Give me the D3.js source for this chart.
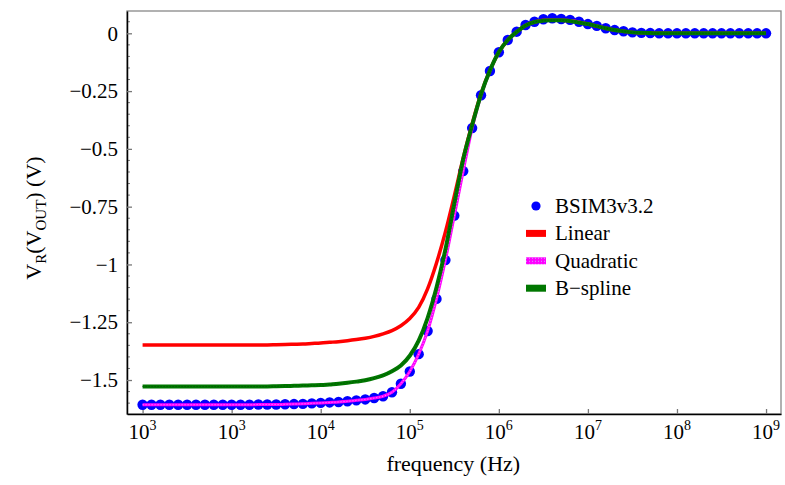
<!DOCTYPE html>
<html>
<head>
<meta charset="utf-8">
<script src="https://cdn.jsdelivr.net/npm/d3@7"></script>
<style>
  body { margin: 0; background: #fff; }
  svg text { font-family: "Liberation Serif", "Times New Roman", Times, "DejaVu Serif", serif !important; fill: #000; }
</style>
</head>
<body>
<div id="chart"></div>
<script>
// frequency sweep: 10 points per decade, 10^2 .. 10^9
const freqs = d3.range(71).map(k => Math.pow(10, 2 + k / 10));

const bsim = [
  -1.607, -1.607, -1.607, -1.607, -1.607, -1.607, -1.607, -1.607, -1.607, -1.607,
  -1.607, -1.607, -1.607, -1.606, -1.606, -1.606, -1.605, -1.604, -1.603, -1.601,
  -1.599, -1.597, -1.595, -1.592, -1.588, -1.584, -1.578, -1.570, -1.553, -1.516,
  -1.463, -1.388, -1.288, -1.149, -0.981, -0.789, -0.596, -0.410, -0.268, -0.163,
  -0.082, -0.029, 0.007, 0.036, 0.050, 0.061, 0.065, 0.062, 0.058, 0.050,
  0.040, 0.032, 0.022, 0.014, 0.009, 0.004, 0.002, 0.001, 0, 0,
  0, 0, 0, 0, 0, 0, 0, 0, 0, 0, 0
];

const linear = [
  -1.348, -1.348, -1.348, -1.348, -1.348, -1.348, -1.348, -1.348, -1.348, -1.348,
  -1.348, -1.348, -1.348, -1.348, -1.348, -1.347, -1.346, -1.345, -1.344, -1.342,
  -1.340, -1.337, -1.334, -1.330, -1.325, -1.319, -1.311, -1.300, -1.286, -1.265,
  -1.234, -1.186, -1.106, -0.994, -0.859, -0.703, -0.539, -0.392, -0.262, -0.160,
  -0.081, -0.029, 0.006, 0.034, 0.049, 0.056, 0.058, 0.057, 0.054, 0.048,
  0.040, 0.031, 0.022, 0.014, 0.009, 0.004, 0.002, 0.001, 0, 0,
  0, 0, 0, 0, 0, 0, 0, 0, 0, 0, 0
];

const quadratic = [
  -1.607, -1.607, -1.607, -1.607, -1.607, -1.607, -1.607, -1.607, -1.607, -1.607,
  -1.607, -1.607, -1.607, -1.606, -1.606, -1.606, -1.605, -1.604, -1.603, -1.601,
  -1.599, -1.597, -1.595, -1.592, -1.588, -1.584, -1.578, -1.570, -1.553, -1.516,
  -1.463, -1.388, -1.288, -1.149, -0.981, -0.789, -0.596, -0.410, -0.268, -0.163,
  -0.082, -0.029, 0.007, 0.035, 0.049, 0.057, 0.059, 0.058, 0.055, 0.049,
  0.040, 0.032, 0.022, 0.014, 0.009, 0.004, 0.002, 0.001, 0, 0,
  0, 0, 0, 0, 0, 0, 0, 0, 0, 0, 0
];

const bspline = [
  -1.528, -1.528, -1.528, -1.528, -1.528, -1.528, -1.528, -1.528, -1.528, -1.528,
  -1.528, -1.528, -1.528, -1.528, -1.528, -1.527, -1.526, -1.525, -1.524, -1.523,
  -1.522, -1.519, -1.516, -1.512, -1.507, -1.501, -1.492, -1.480, -1.462, -1.437,
  -1.395, -1.330, -1.232, -1.100, -0.935, -0.737, -0.545, -0.398, -0.264, -0.161,
  -0.081, -0.029, 0.006, 0.034, 0.049, 0.055, 0.057, 0.056, 0.053, 0.047,
  0.040, 0.031, 0.022, 0.014, 0.009, 0.004, 0.002, 0.001, 0, 0,
  0, 0, 0, 0, 0, 0, 0, 0, 0, 0, 0
];

const xTicks = [1e2, 1e3, 1e4, 1e5, 1e6, 1e7, 1e8, 1e9];
const xTickExp = ["3", "3", "4", "5", "6", "7", "8", "9"];
const yTicks = [0, -0.25, -0.5, -0.75, -1, -1.25, -1.5];
const legendNames = ["BSIM3v3.2", "Linear", "Quadratic", "B\u2212spline"];

const W = 785, H = 485;
const margin = {top: 11, right: 4, bottom: 71, left: 127};
const width = W - margin.left - margin.right;
const height = H - margin.top - margin.bottom;
const serif = "Liberation Serif, Times New Roman, serif";

const svg = d3.select("#chart").append("svg")
  .attr("width", W)
  .attr("height", H)
  .attr("font-family", serif);

const defs = svg.append("defs");
const pat = defs.append("pattern")
  .attr("id", "quadPat")
  .attr("width", 3).attr("height", 3)
  .attr("patternUnits", "userSpaceOnUse");
pat.append("rect").attr("width", 3).attr("height", 3).attr("fill", "#ff00ff");
pat.append("rect").attr("width", 1).attr("height", 1).attr("fill", "#d0a0ff");

const g = svg.append("g")
  .attr("transform", "translate(" + margin.left + "," + margin.top + ")");

const x = d3.scaleLog()
  .domain([Math.pow(10, 1.825), Math.pow(10, 9.168)])
  .range([0, width]);
const y = d3.scaleLinear()
  .domain([-1.647, 0.0965])
  .range([height, 0]);

// frame (top/right in gray)
g.append("rect")
  .attr("width", width).attr("height", height)
  .attr("fill", "none")
  .attr("stroke", "#888")
  .attr("stroke-width", 1.3);

// minor y ticks
g.selectAll(".minor")
  .data(d3.range(-32, 2).map(i => i * 0.05).filter(v => Math.abs(v / 0.25 - Math.round(v / 0.25)) > 1e-6))
  .enter().append("line")
  .attr("x1", 0).attr("x2", 3)
  .attr("y1", d => y(d)).attr("y2", d => y(d))
  .attr("stroke", "#777")
  .attr("stroke-width", 1);

const fmtY = d => d === 0 ? "0" : "\u2212" + Math.abs(d);

const yAxis = g.append("g")
  .call(d3.axisLeft(y).tickValues(yTicks).tickFormat(fmtY).tickSizeInner(-5).tickSizeOuter(0).tickPadding(9))
  .attr("font-family", serif);
yAxis.select(".domain").attr("stroke", "#000").attr("stroke-width", 1.5);
yAxis.selectAll(".tick line").attr("stroke", "#777").attr("stroke-width", 1.3);
yAxis.selectAll(".tick text").attr("font-size", 21);

const xAxis = g.append("g")
  .attr("transform", "translate(0," + height + ")")
  .call(d3.axisBottom(x).tickValues(xTicks).tickFormat("").tickSizeInner(-5).tickSizeOuter(0));
xAxis.select(".domain").attr("stroke", "#000").attr("stroke-width", 1.5);
xAxis.selectAll(".tick line").attr("stroke", "#777").attr("stroke-width", 1.3);

const xl = g.selectAll(".xlab")
  .data(xTicks)
  .enter().append("text")
  .attr("class", "xlab")
  .attr("x", d => x(d))
  .attr("y", height + 25)
  .attr("text-anchor", "middle")
  .attr("font-size", 21);
xl.append("tspan").text("10");
xl.append("tspan").attr("dy", -9).attr("font-size", 14).text((d, i) => xTickExp[i]);

// data
const pts = freqs.map((f, i) => ({f: f, b: bsim[i], l: linear[i], q: quadratic[i], s: bspline[i]}));

g.selectAll(".dot")
  .data(pts)
  .enter().append("circle")
  .attr("class", "dot")
  .attr("cx", d => x(d.f))
  .attr("cy", d => y(d.b))
  .attr("r", 5.2)
  .attr("fill", "#0000ff");

const line = key => d3.line()
  .x(d => x(d.f))
  .y(d => y(d[key]))
  .curve(d3.curveMonotoneX);

g.append("path").datum(pts)
  .attr("d", line("l"))
  .attr("fill", "none").attr("stroke", "#ff0000").attr("stroke-width", 3.5);

g.append("path").datum(pts)
  .attr("d", line("q"))
  .attr("fill", "none").attr("stroke", "#ff00ff").attr("stroke-width", 3);
g.append("path").datum(pts)
  .attr("d", line("q"))
  .attr("fill", "none").attr("stroke", "#ffa0ff").attr("stroke-width", 1)
  .attr("stroke-dasharray", "1,2");

g.append("path").datum(pts)
  .attr("d", line("s"))
  .attr("fill", "none").attr("stroke", "#007700").attr("stroke-width", 4);
g.append("path").datum(pts)
  .attr("d", line("s"))
  .attr("fill", "none").attr("stroke", "#004f00").attr("stroke-width", 1)
  .attr("stroke-dasharray", "1,2");

// legend
const leg = svg.append("g").attr("transform", "translate(526,206)");
const legFill = ["#0000ff", "#ff0000", "url(#quadPat)", "#007700"];
legendNames.forEach((name, i) => {
  const row = leg.append("g").attr("transform", "translate(0," + (i * 27.4) + ")");
  if (i === 0) {
    row.append("circle").attr("cx", 10).attr("cy", 0).attr("r", 4.6).attr("fill", legFill[i]);
  } else {
    row.append("rect").attr("x", 0).attr("y", -3.5).attr("width", 20).attr("height", 7).attr("fill", legFill[i]);
  }
  row.append("text")
    .attr("x", 29).attr("y", 7)
    .attr("font-size", 21)
    .text(name);
});

// axis titles
svg.append("text")
  .attr("x", margin.left + x(Math.pow(10, 5.5)) - 1)
  .attr("y", 471)
  .attr("text-anchor", "middle")
  .attr("font-size", 22)
  .text("frequency (Hz)");

const yt = svg.append("text")
  .attr("transform", "translate(41,218) rotate(-90)")
  .attr("text-anchor", "middle")
  .attr("font-size", 22);
yt.append("tspan").text("V");
yt.append("tspan").attr("font-size", 15).attr("dy", 5).text("R");
yt.append("tspan").attr("dy", -5).text("(V");
yt.append("tspan").attr("font-size", 15).attr("dy", 5).text("OUT");
yt.append("tspan").attr("dy", -5).text(") (V)");
</script>
</body>
</html>
